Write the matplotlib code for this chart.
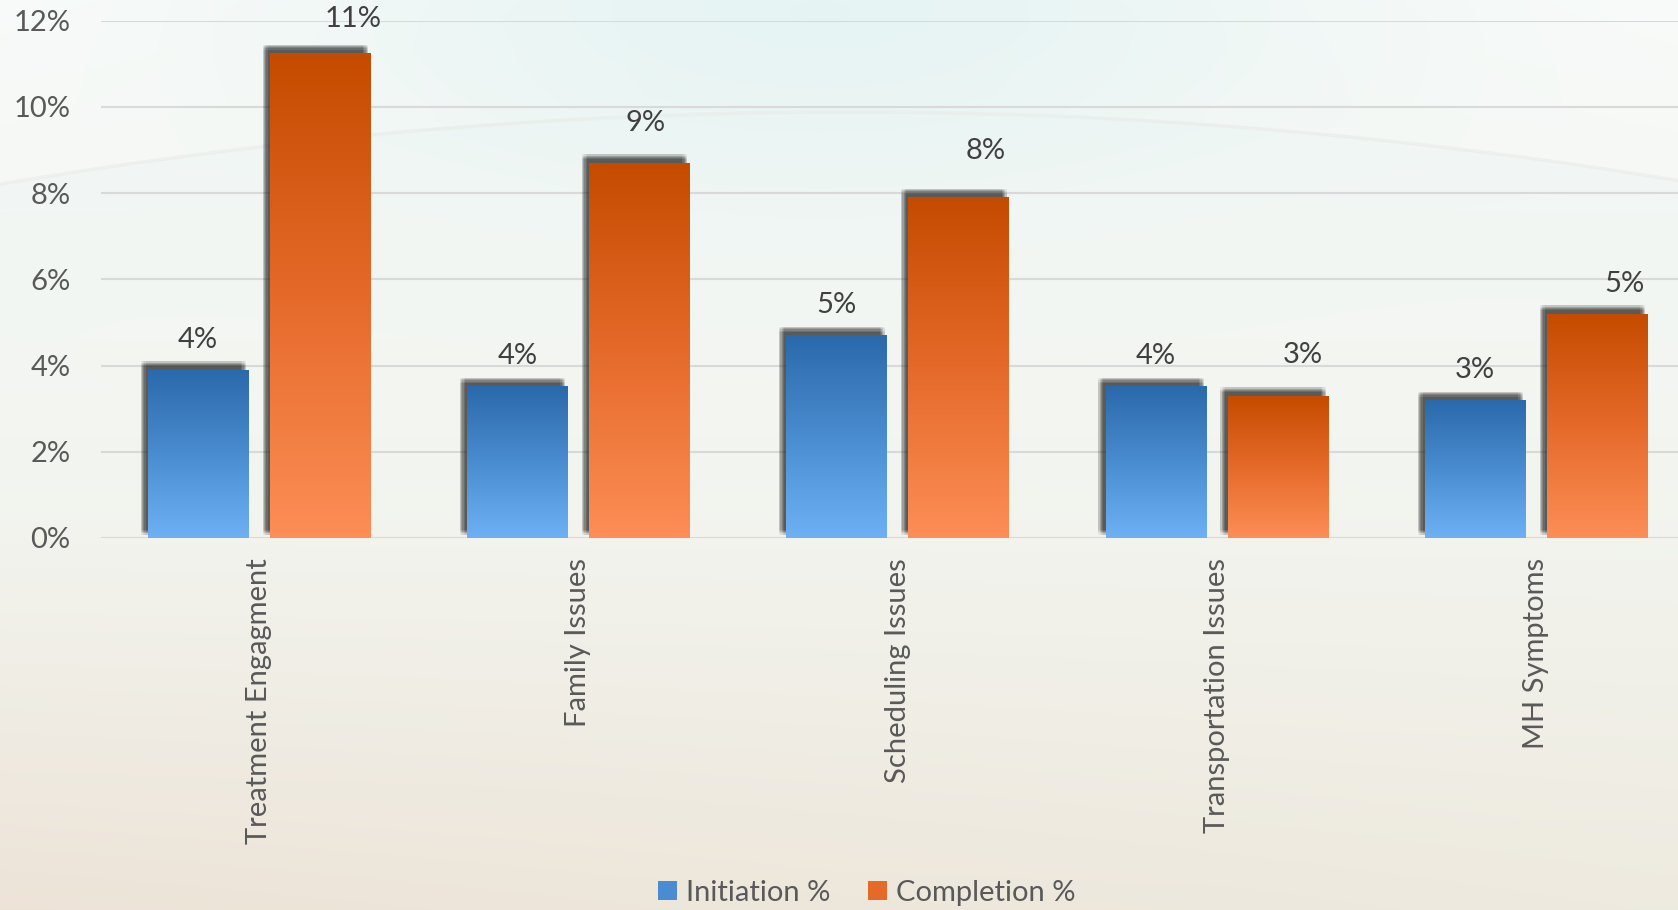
import numpy as np
import matplotlib.pyplot as plt
import matplotlib.patheffects as pe
from matplotlib.patches import Patch
from matplotlib.colors import LinearSegmentedColormap, to_rgb

# Survey data: share of clients reporting each barrier
categories = ['Treatment Engagment', 'Family Issues', 'Scheduling Issues',
              'Transportation Issues', 'MH Symptoms']
initiation = [3.9, 3.52, 4.7, 3.52, 3.2]
completion = [11.25, 8.7, 7.9, 3.3, 5.2]
series_names = ['Initiation %', 'Completion %']
y_ticks = [0, 2, 4, 6, 8, 10, 12]

# label nudges for the completion series (pixels)
comp_dx = [33, 6, 27, 25, 27]
comp_dy = [34, 40, 46, 41, 30]

plt.rcParams['font.family'] = ['Lato', 'DejaVu Sans']
FS = 21

W, H = 1678, 910
fig = plt.figure(figsize=(W / 100, H / 100), dpi=100)

# soft backdrop: pale cyan top fading to beige
yy, xx = np.mgrid[0:H, 0:W].astype(float)
top = np.array(to_rgb('#f9fbf9'))
mid = np.array(to_rgb('#f3f4ee'))
bot_l = np.array(to_rgb('#ede3d7'))
bot_r = np.array(to_rgb('#eeeadf'))
t = (yy / H)[..., None]
s = (xx / W)[..., None]
bot = bot_l * (1 - s) + bot_r * s
img = np.where(t < 0.57, top + (mid - top) * (t / 0.57),
               mid + (bot - mid) * ((t - 0.57) / 0.43))
cyan = np.array(to_rgb('#def1f1'))
w = (0.7 * np.exp(-((xx - 820) / 520) ** 2 - (yy / 200) ** 2))[..., None]
img = img * (1 - w) + cyan * w
arc = 112 + 1.0e-4 * (xx - 850) ** 2
below = np.clip(yy - arc, 0, None)
w2 = (0.35 * (yy > arc) * np.exp(-below / 220))[..., None]
img = img * (1 - w2) + np.array(to_rgb('#e9f4f3')) * w2

bg = fig.add_axes([0, 0, 1, 1], zorder=-10)
bg.imshow(np.clip(img, 0, 1), extent=[0, W, H, 0], aspect='auto')
xs = np.linspace(0, W, 400)
bg.plot(xs, 112 + 1.0e-4 * (xs - 850) ** 2, color='#e9ebe8', lw=2.5, alpha=0.6)
bg.set_xlim(0, W)
bg.set_ylim(H, 0)
bg.axis('off')

left, zero_y, top_y = 101, 538, 20.7
ax = fig.add_axes([left / W, (H - zero_y) / H, 1 - left / W, (zero_y - top_y) / H])
ax.patch.set_alpha(0)

x = np.arange(len(categories))
offset = 0.191
width = 0.315

# soft drop shadow up and to the left of each bar
jit = np.linspace(-1.8, 1.8, 5)
shadow = [pe.SimplePatchShadow(offset=(-3.4 + jx, 4.3 + jy), shadow_rgbFace='#2a2a2a', alpha=0.05)
          for jx in jit for jy in jit] + [pe.Normal()]

blue_cmap = LinearSegmentedColormap.from_list('blue', ['#6db1f4', '#4a8cd0', '#2a69ab'])
orange_cmap = LinearSegmentedColormap.from_list('orange', ['#fd8e56', '#e56a2a', '#c54b00'])

bars_i = ax.bar(x - offset, initiation, width, color='#4a8cd0', lw=0, zorder=2)
bars_c = ax.bar(x + offset, completion, width, color='#e56a2a', lw=0, zorder=2)

grad = np.linspace(0, 1, 256).reshape(-1, 1)
for bars, cmap in [(bars_i, blue_cmap), (bars_c, orange_cmap)]:
    for rect in bars:
        rect.set_path_effects(shadow)
        x0, y0 = rect.get_x(), rect.get_y()
        im = ax.imshow(grad, cmap=cmap, origin='lower', aspect='auto',
                       extent=[x0, x0 + rect.get_width(), y0, y0 + rect.get_height()],
                       zorder=2.5)
        im.set_clip_path(rect)

# value labels
for xi, v in zip(x, initiation):
    ax.annotate(f'{v:.0f}%', (xi - offset, v), xytext=(0, 30), textcoords='offset pixels',
                ha='center', va='center', fontsize=FS, color='#404040')
for xi, v, dx, dy in zip(x, completion, comp_dx, comp_dy):
    ax.annotate(f'{v:.0f}%', (xi + offset, v), xytext=(dx, dy), textcoords='offset pixels',
                ha='center', va='center', fontsize=FS, color='#404040')

ax.set_xlim(-0.495, 4.444)
ax.set_ylim(0, 12)
ax.set_yticks(y_ticks)
ax.set_yticklabels([f'{v}%' for v in y_ticks])
ax.set_xticks(x)
ax.set_xticklabels(categories, rotation=90, ha='center', va='top')
ax.tick_params(axis='both', length=0, labelsize=FS, labelcolor='#595959')
ax.tick_params(axis='y', pad=22)
ax.tick_params(axis='x', pad=14.5)
ax.yaxis.grid(True, color='#d9d9d9', lw=1.5)
ax.set_axisbelow(True)
for sp in ax.spines.values():
    sp.set_visible(False)

handles = [Patch(facecolor='#4a8cd0', edgecolor='none'),
           Patch(facecolor='#e56a2a', edgecolor='none')]
fig.legend(handles, series_names, loc='center', bbox_to_anchor=(0.5167, 0.019),
           ncol=2, frameon=False, fontsize=FS, labelcolor='#595959',
           handlelength=0.65, handleheight=0.65, handletextpad=0.3, columnspacing=1.3)

fig.savefig('out.png', dpi=100)
